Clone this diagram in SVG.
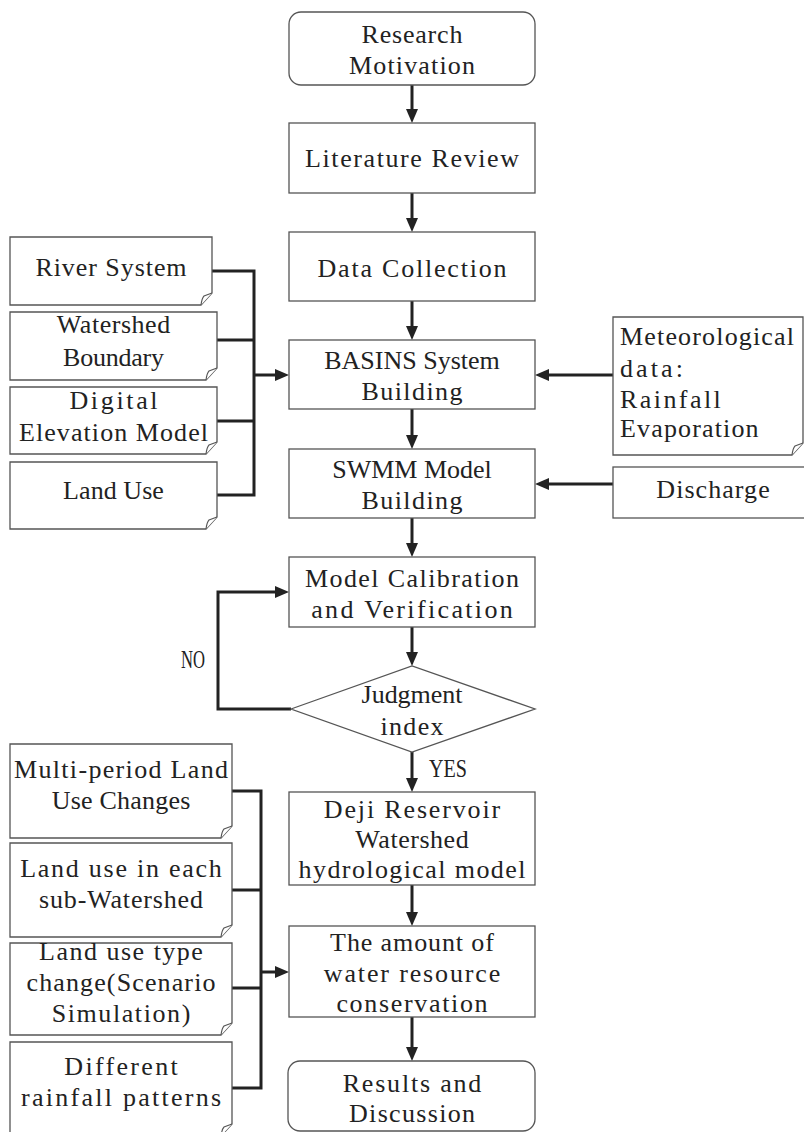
<svg xmlns="http://www.w3.org/2000/svg" width="804" height="1132" viewBox="0 0 804 1132">
<style>
.box{fill:#fff;stroke:#555;stroke-width:1.3}
.fold{fill:#fff;stroke:#555;stroke-width:1.1}
.t{font-family:"Liberation Serif","Times New Roman",serif;font-size:26px;fill:#222;text-anchor:middle}
.tl{font-family:"Liberation Serif","Times New Roman",serif;font-size:26px;fill:#222;text-anchor:start}
.lab{font-family:"Liberation Serif","Times New Roman",serif;font-size:26px;fill:#222}
.ln{fill:none;stroke:#222;stroke-width:3}
.ar{fill:none;stroke:#222;stroke-width:3;marker-end:url(#ah)}
</style>
<defs>
<marker id="ah" viewBox="0 0 14 12" refX="6" refY="6" markerWidth="14" markerHeight="12" markerUnits="userSpaceOnUse" orient="auto">
<path d="M0,0 L14,6 L0,12 Z" fill="#222"/>
</marker>
</defs>

<g id="connectors">
<line class="ar" x1="412" y1="85" x2="412" y2="115"/>
<line class="ar" x1="412" y1="193" x2="412" y2="224"/>
<line class="ar" x1="412" y1="301" x2="412" y2="332"/>
<line class="ar" x1="412" y1="409" x2="412" y2="441"/>
<line class="ar" x1="412" y1="518" x2="412" y2="549"/>
<line class="ar" x1="412" y1="627" x2="412" y2="658"/>
<line class="ar" x1="412" y1="752" x2="412" y2="784"/>
<line class="ar" x1="412" y1="885" x2="412" y2="918"/>
<line class="ar" x1="412" y1="1017" x2="412" y2="1053"/>
<path class="ln" d="M212,271 H254 M217,340 H254 M217,421 H254 M217,495 H254 M254,269.5 V496.5"/>
<line class="ar" x1="254" y1="375" x2="281" y2="375"/>
<path class="ln" d="M232,791 H261 M232,890 H261 M232,988 H261 M232,1088 H261 M261,789.5 V1089.5"/>
<line class="ar" x1="261" y1="972" x2="281" y2="972"/>
<line class="ar" x1="613" y1="375" x2="543" y2="375"/>
<line class="ar" x1="613" y1="484" x2="543" y2="484"/>
<path class="ar" d="M291,709 H218 V592 H281"/>
<text class="lab" x="181" y="668" textLength="24" lengthAdjust="spacingAndGlyphs">NO</text>
<text class="lab" x="429" y="777" textLength="38" lengthAdjust="spacingAndGlyphs">YES</text>
</g>

<g id="research">
<rect class="box" x="289" y="12" width="246" height="73" rx="12"/>
<text class="t" x="412" y="43" textLength="100.8" lengthAdjust="spacing">Research</text>
<text class="t" x="412" y="74" textLength="126" lengthAdjust="spacing">Motivation</text>
</g>
<g id="literature">
<rect class="box" x="289" y="123" width="246" height="70"/>
<text class="t" x="412" y="167" textLength="214" lengthAdjust="spacing">Literature Review</text>
</g>
<g id="data">
<rect class="box" x="289" y="232" width="246" height="69"/>
<text class="t" x="412" y="277" textLength="189" lengthAdjust="spacing">Data Collection</text>
</g>
<g id="basins">
<rect class="box" x="289" y="340" width="246" height="69"/>
<text class="t" x="412" y="369">BASINS System</text>
<text class="t" x="412" y="400" textLength="100.8" lengthAdjust="spacing">Building</text>
</g>
<g id="swmm">
<rect class="box" x="289" y="449" width="246" height="69"/>
<text class="t" x="412" y="478">SWMM Model</text>
<text class="t" x="412" y="509" textLength="100.8" lengthAdjust="spacing">Building</text>
</g>
<g id="calibration">
<rect class="box" x="289" y="557" width="246" height="70"/>
<text class="t" x="412" y="587" textLength="214" lengthAdjust="spacing">Model Calibration</text>
<text class="t" x="412" y="618" textLength="201.6" lengthAdjust="spacing">and Verification</text>
</g>
<g id="judgment">
<polygon class="box" points="291,709 412,666 535,709 412,752"/>
<text class="t" x="412" y="703" textLength="100.8" lengthAdjust="spacing">Judgment</text>
<text class="t" x="412" y="735" textLength="63" lengthAdjust="spacing">index</text>
</g>
<g id="deji">
<rect class="box" x="289" y="792" width="246" height="93"/>
<text class="t" x="412" y="818" textLength="176.4" lengthAdjust="spacing">Deji Reservoir</text>
<text class="t" x="412" y="848" textLength="113.4" lengthAdjust="spacing">Watershed</text>
<text class="t" x="412" y="878" textLength="226.8" lengthAdjust="spacing">hydrological model</text>
</g>
<g id="water">
<rect class="box" x="289" y="926" width="246" height="91"/>
<text class="t" x="412" y="951" textLength="163.8" lengthAdjust="spacing">The amount of</text>
<text class="t" x="412" y="982" textLength="176.4" lengthAdjust="spacing">water resource</text>
<text class="t" x="412" y="1012" textLength="151.2" lengthAdjust="spacing">conservation</text>
</g>
<g id="results">
<rect class="box" x="288" y="1061" width="247" height="70" rx="12"/>
<text class="t" x="412" y="1092" textLength="138.6" lengthAdjust="spacing">Results and</text>
<text class="t" x="412" y="1122" textLength="126" lengthAdjust="spacing">Discussion</text>
</g>

<g id="river">
<path class="box" d="M10,237 H212 V293 L201,305 H10 Z"/>
<path class="fold" d="M201,305 Q202,298 204,296 L212,293"/>
<text class="t" x="111" y="276" textLength="151.2" lengthAdjust="spacing">River System</text>
</g>
<g id="watershed">
<path class="box" d="M10,312 H217 V368 L206,380 H10 Z"/>
<path class="fold" d="M206,380 Q207,373 209,371 L217,368"/>
<text class="t" x="113.5" y="333" textLength="113.4" lengthAdjust="spacing">Watershed</text>
<text class="t" x="113.5" y="366" textLength="100.8" lengthAdjust="spacing">Boundary</text>
</g>
<g id="dem">
<path class="box" d="M10,387 H217 V442 L206,454 H10 Z"/>
<path class="fold" d="M206,454 Q207,447 209,445 L217,442"/>
<text class="t" x="113.5" y="409" textLength="88.2" lengthAdjust="spacing">Digital</text>
<text class="t" x="113.5" y="441" textLength="189" lengthAdjust="spacing">Elevation Model</text>
</g>
<g id="landuse">
<path class="box" d="M10,462 H217 V517 L206,529 H10 Z"/>
<path class="fold" d="M206,529 Q207,522 209,520 L217,517"/>
<text class="t" x="113.5" y="499" textLength="100.8" lengthAdjust="spacing">Land Use</text>
</g>

<g id="meteorological">
<path class="box" d="M613,317 H803 V443 L792,455 H613 Z"/>
<path class="fold" d="M792,455 Q793,448 795,446 L803,443"/>
<text class="tl" x="620" y="345" textLength="174" lengthAdjust="spacing">Meteorological</text>
<text class="tl" x="620" y="377" textLength="63" lengthAdjust="spacing">data:</text>
<text class="tl" x="620" y="408" textLength="100.8" lengthAdjust="spacing">Rainfall</text>
<text class="tl" x="620" y="437" textLength="138.6" lengthAdjust="spacing">Evaporation</text>
</g>
<g id="discharge">
<rect class="box" x="613" y="467" width="195" height="51"/>
<text class="t" x="713" y="498" textLength="113.4" lengthAdjust="spacing">Discharge</text>
</g>

<g id="multiperiod">
<path class="box" d="M10,744 H232 V826 L221,838 H10 Z"/>
<path class="fold" d="M221,838 Q222,831 224,829 L232,826"/>
<text class="t" x="121" y="778" textLength="214" lengthAdjust="spacing">Multi-period Land</text>
<text class="t" x="121" y="809" textLength="138.6" lengthAdjust="spacing">Use Changes</text>
</g>
<g id="subwatershed">
<path class="box" d="M10,843 H232 V925 L221,937 H10 Z"/>
<path class="fold" d="M221,937 Q222,930 224,928 L232,925"/>
<text class="t" x="121" y="877" textLength="201.6" lengthAdjust="spacing">Land use in each</text>
<text class="t" x="121" y="908" textLength="163.8" lengthAdjust="spacing">sub-Watershed</text>
</g>
<g id="scenario">
<path class="box" d="M10,943 H232 V1023 L221,1035 H10 Z"/>
<path class="fold" d="M221,1035 Q222,1028 224,1026 L232,1023"/>
<text class="t" x="121" y="960" textLength="163.8" lengthAdjust="spacing">Land use type</text>
<text class="t" x="121" y="991" textLength="189" lengthAdjust="spacing">change(Scenario</text>
<text class="t" x="121" y="1022" textLength="138.6" lengthAdjust="spacing">Simulation)</text>
</g>
<g id="rainfall">
<path class="box" d="M10,1042 H232 V1124 L221,1136 H10 Z"/>
<path class="fold" d="M221,1136 Q222,1129 224,1127 L232,1124"/>
<text class="t" x="121" y="1075" textLength="113.4" lengthAdjust="spacing">Different</text>
<text class="t" x="121" y="1106" textLength="200" lengthAdjust="spacing">rainfall patterns</text>
</g>
</svg>
